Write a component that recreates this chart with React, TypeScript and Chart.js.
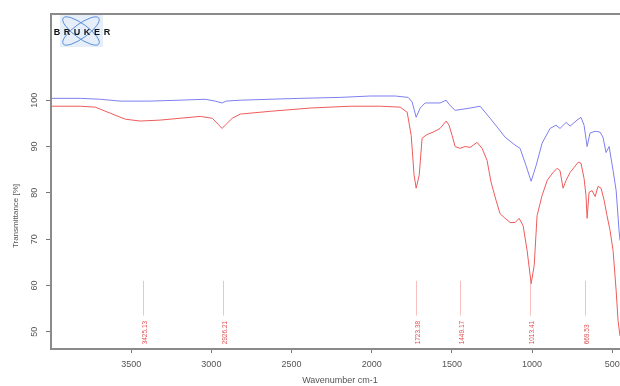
import React, { useEffect, useRef } from 'react';
import { Chart, registerables } from 'chart.js';

Chart.register(...registerables);

const xTicks = [500, 1000, 1500, 2000, 2500, 3000, 3500];
const yTicks = [50, 60, 70, 80, 90, 100];
const xTitle = 'Wavenumber cm-1';
const yTitle = 'Transmittance [%]';

const blueWavenumber = [4000, 3818, 3693, 3569, 3382, 3195, 3039, 2976, 2933, 2908, 2820, 2446, 2197, 2010, 1854, 1773, 1748, 1723, 1698, 1667, 1574, 1536, 1518, 1480, 1387, 1324, 1262, 1218, 1168, 1106, 1075, 1038, 1006, 975, 938, 888, 851, 826, 788, 763, 720, 695, 676, 657, 639, 607, 576, 558, 539, 520, 495, 476, 458, 452];
const blueTransmittance = [100.4, 100.4, 100.2, 99.8, 99.8, 100.0, 100.2, 99.8, 99.4, 99.8, 100.0, 100.4, 100.6, 100.9, 100.9, 100.6, 99.6, 96.3, 98.3, 99.4, 99.4, 100.0, 99.1, 97.8, 98.3, 98.7, 96.1, 94.2, 92.0, 90.3, 89.6, 85.9, 82.5, 85.9, 90.7, 93.9, 94.6, 93.9, 95.2, 94.4, 95.7, 96.3, 94.6, 90.0, 92.9, 93.3, 93.1, 92.0, 88.7, 90.0, 84.8, 80.5, 71.9, 69.7];

const redWavenumber = [4000, 3818, 3724, 3631, 3537, 3444, 3319, 3195, 3070, 2995, 2958, 2933, 2908, 2870, 2820, 2633, 2384, 2135, 1948, 1823, 1779, 1754, 1736, 1723, 1704, 1686, 1655, 1617, 1574, 1536, 1518, 1499, 1480, 1449, 1418, 1387, 1343, 1312, 1281, 1256, 1225, 1200, 1168, 1137, 1106, 1081, 1056, 1031, 1006, 987, 969, 938, 906, 869, 844, 826, 807, 788, 763, 738, 713, 695, 676, 664, 657, 645, 626, 607, 589, 570, 551, 533, 514, 495, 476, 464, 452];
const redTransmittance = [98.7, 98.7, 98.5, 97.2, 95.9, 95.5, 95.7, 96.1, 96.5, 96.1, 94.8, 93.9, 94.8, 96.1, 97.0, 97.6, 98.3, 98.7, 98.7, 98.5, 97.4, 92.4, 83.8, 81.0, 83.8, 91.8, 92.6, 93.1, 93.9, 95.5, 94.6, 92.4, 90.0, 89.6, 90.0, 89.8, 90.9, 89.6, 87.0, 82.3, 78.4, 75.5, 74.5, 73.6, 73.6, 74.5, 72.9, 67.5, 60.4, 64.3, 75.1, 79.4, 82.7, 84.4, 85.3, 84.8, 81.0, 82.7, 84.4, 85.5, 86.6, 86.4, 83.1, 79.4, 74.5, 80.1, 80.5, 79.2, 81.4, 81.0, 78.4, 75.1, 71.9, 67.5, 58.9, 52.4, 49.1];

const peakWavenumbers = [3425, 2926, 1723, 1449, 1013, 670];
const peakLabels = ['3425.13', '2926.21', '1723.38', '1449.17', '1013.41', '669.53'];

const FONT = '"Liberation Sans", Arial, sans-serif';

const decorPlugin = {
  id: 'decor',
  afterDraw(chart: any) {
    const { ctx, chartArea } = chart;
    const xs = chart.scales.x;
    const ys = chart.scales.y;
    ctx.save();
    // top border
    ctx.strokeStyle = '#8a8a8a';
    ctx.lineWidth = 2;
    ctx.beginPath();
    ctx.moveTo(chartArea.left - 1, chartArea.top);
    ctx.lineTo(chartArea.right + 1, chartArea.top);
    ctx.stroke();

    // y tick labels (rotated)
    ctx.fillStyle = '#555';
    ctx.font = `9px ${FONT}`;
    ctx.textAlign = 'center';
    ctx.textBaseline = 'middle';
    yTicks.forEach((v) => {
      const y = ys.getPixelForValue(v);
      ctx.save();
      ctx.translate(35, y);
      ctx.rotate(-Math.PI / 2);
      ctx.fillText(String(v), 0, 0);
      ctx.restore();
    });
    // y title
    ctx.save();
    ctx.translate(16, 216);
    ctx.rotate(-Math.PI / 2);
    ctx.font = `8px ${FONT}`;
    ctx.fillText(yTitle, 0, 0);
    ctx.restore();
    // x title
    ctx.font = `9px ${FONT}`;
    ctx.fillText(xTitle, 340, 381);

    // peak markers
    peakWavenumbers.forEach((w, i) => {
      const x = Math.round(xs.getPixelForValue(w)) + 0.5;
      ctx.strokeStyle = 'rgba(240,150,150,0.6)';
      ctx.lineWidth = 1;
      ctx.beginPath();
      ctx.moveTo(x, ys.getPixelForValue(61));
      ctx.lineTo(x, ys.getPixelForValue(53.5));
      ctx.stroke();
      ctx.save();
      ctx.translate(x + 1.5, ys.getPixelForValue(47.3));
      ctx.rotate(-Math.PI / 2);
      ctx.fillStyle = '#e05050';
      ctx.font = `6.5px ${FONT}`;
      ctx.textAlign = 'left';
      ctx.textBaseline = 'middle';
      ctx.fillText(peakLabels[i], 0, 0);
      ctx.restore();
    });

    // Bruker logo
    ctx.fillStyle = '#e6eef9';
    ctx.fillRect(60, 15, 43, 32);
    ctx.strokeStyle = '#5a8fd8';
    ctx.lineWidth = 1;
    [Math.PI / 5, -Math.PI / 5].forEach((a) => {
      ctx.beginPath();
      ctx.ellipse(81, 31, 22, 7, a, 0, Math.PI * 2);
      ctx.stroke();
    });
    ctx.fillStyle = '#111';
    ctx.font = `bold 9px ${FONT}`;
    ctx.textAlign = 'center';
    ctx.textBaseline = 'middle';
    'BRUKER'.split('').forEach((c, i) => {
      ctx.fillText(c, 57 + i * 10, 33);
    });
    ctx.restore();
  },
};

export default function App() {
  const ref = useRef<HTMLCanvasElement | null>(null);
  useEffect(() => {
    document.body.style.margin = '0';
    const canvas = ref.current!;
    const chart = new Chart(canvas, {
      type: 'scatter',
      data: {
        datasets: [
          {
            label: 'blue',
            data: blueWavenumber.map((w, i) => ({ x: w, y: blueTransmittance[i] })),
            showLine: true,
            borderColor: '#7f7ff0',
            borderWidth: 1,
            pointRadius: 0,
            tension: 0,
          },
          {
            label: 'red',
            data: redWavenumber.map((w, i) => ({ x: w, y: redTransmittance[i] })),
            showLine: true,
            borderColor: '#ee5b5b',
            borderWidth: 1,
            pointRadius: 0,
            tension: 0,
          },
        ],
      },
      options: {
        animation: false,
        responsive: false,
        maintainAspectRatio: false,
        layout: { padding: { top: 14, left: 0, right: 0, bottom: 0 } },
        plugins: { legend: { display: false }, tooltip: { enabled: false } },
        scales: {
          x: {
            type: 'linear',
            reverse: true,
            min: 452,
            max: 4000,
            afterBuildTicks: (s: any) => {
              s.ticks = xTicks.map((v) => ({ value: v }));
            },
            afterFit: (s: any) => {
              s.height = 37;
              s.paddingLeft = 0;
              s.paddingRight = 0;
            },
            grid: { drawOnChartArea: false, drawTicks: true, tickLength: 4, color: '#777' },
            border: { display: true, color: '#8a8a8a', width: 2 },
            ticks: {
              color: '#555',
              font: { size: 9, family: FONT },
              padding: 6,
              autoSkip: false,
              maxRotation: 0,
              minRotation: 0,
              callback: (v: any) => String(v),
            },
          },
          y: {
            type: 'linear',
            min: 46.3,
            max: 118.6,
            afterBuildTicks: (s: any) => {
              s.ticks = yTicks.map((v) => ({ value: v }));
            },
            afterFit: (s: any) => {
              s.width = 51;
              s.paddingTop = 0;
              s.paddingBottom = 0;
            },
            grid: { drawOnChartArea: false, drawTicks: true, tickLength: 5, color: '#777' },
            border: { display: true, color: '#8a8a8a', width: 2 },
            ticks: { display: false },
          },
        },
      },
      plugins: [decorPlugin],
    } as any);
    return () => chart.destroy();
  }, []);
  return (
    <div style={{ position: 'fixed', left: 0, top: 0, width: 620, height: 386, background: '#fff' }}>
      <canvas ref={ref} width={620} height={386} style={{ display: 'block', width: 620, height: 386 }} />
    </div>
  );
}
